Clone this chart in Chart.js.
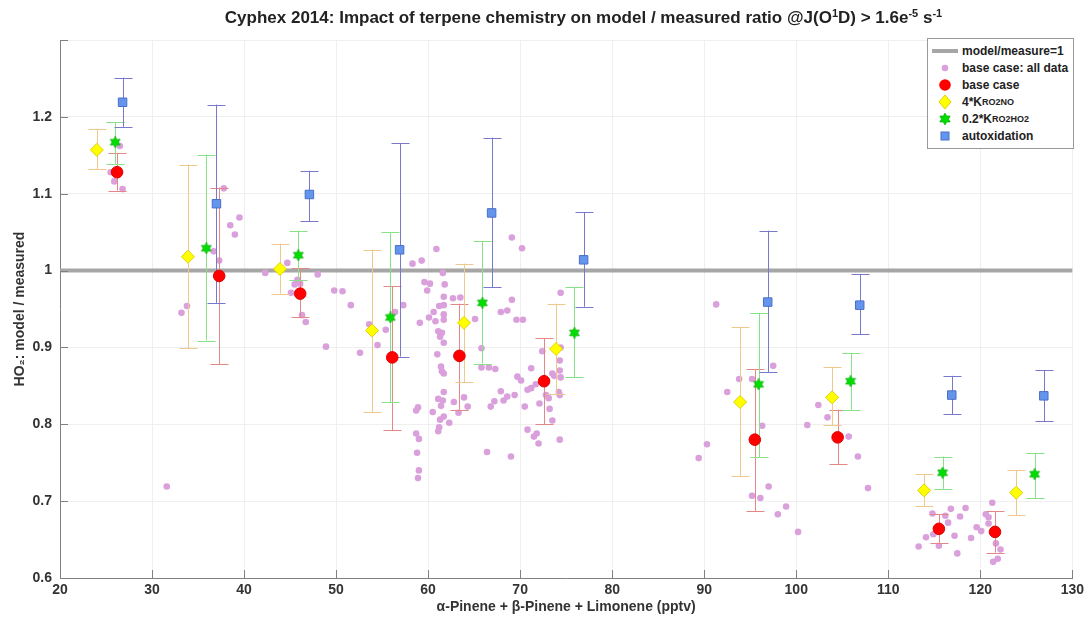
<!DOCTYPE html>
<html>
<head>
<meta charset="utf-8">
<script src="https://cdn.jsdelivr.net/npm/chart.js@4.4.1/dist/chart.umd.min.js"></script>
<style>
html, body { margin: 0; padding: 0; background: #fff; }
#wrap { position: relative; width: 1088px; height: 618px; }
#title { position: absolute; top: 8px; left: 76px; width: 1015px; text-align: center;
  font: bold 17px "Liberation Sans", Arial, sans-serif; color: #222; white-space: nowrap; }
#title sup { font-size: 11px; vertical-align: 6px; line-height: 0; }
#legend { position: absolute; left: 927px; top: 38px; width: 145px; background: #fff; border: 1px solid #999;
  font: bold 12px "Liberation Sans", Arial, sans-serif; color: #222; padding: 3px 0 4px 0; }
.row { display: flex; align-items: center; height: 17px; white-space: nowrap; }
.mk { width: 34px; display: flex; justify-content: center; align-items: center; }
.row sub { font-size: 9px; vertical-align: -4px; line-height: 0; }
</style>
</head>
<body>
<div id="wrap">
  <canvas id="chart" width="1088" height="618"></canvas>
  <div id="title">Cyphex 2014: Impact of terpene chemistry on model / measured ratio @J(O<sup>1</sup>D) &gt; 1.6e<sup>-5</sup> s<sup>-1</sup></div>
  <div id="legend">
    <div class="row"><span class="mk"><svg width="26" height="6"><rect x="0" y="1" width="26" height="4" fill="#a6a6a6"/></svg></span>model/measure=1</div>
    <div class="row"><span class="mk"><svg width="10" height="10"><circle cx="5" cy="5" r="3.3" fill="rgb(218,160,220)"/></svg></span>base case: all data</div>
    <div class="row"><span class="mk"><svg width="14" height="14"><circle cx="7" cy="7" r="5.8" fill="#ff0000"/></svg></span>base case</div>
    <div class="row"><span class="mk"><svg width="14" height="16"><polygon points="7,1 13,8 7,15 1,8" fill="#ffff00" stroke="#e0d000"/></svg></span>4*K<sub>RO2NO</sub></div>
    <div class="row"><span class="mk"><svg width="12" height="12"><polygon points="6,0 7.7,3 11.2,3 9.5,6 11.2,9 7.7,9 6,12 4.3,9 0.8,9 2.5,6 0.8,3 4.3,3" fill="#00dd00" stroke="#00a000" stroke-width="0.6"/></svg></span>0.2*K<sub>RO2HO2</sub></div>
    <div class="row"><span class="mk"><svg width="10" height="10"><rect x="1" y="1" width="8" height="8" fill="#6495ed" stroke="#4a6fc8"/></svg></span>autoxidation</div>
  </div>
</div>
<script>
// x: alpha-pinene + beta-pinene + limonene (pptv), y: model / measured
const refLine = [[20, 1], [130, 1]];

const allData = [
  [26.5,1.162],[25.5,1.128],[25.9,1.116],[26.8,1.106],[31.6,0.719],[33.2,0.945],[33.8,0.954],
  [36.7,1.025],[37.3,1.013],[37.8,1.107],[38.5,1.059],[39.0,1.047],[39.5,1.069],
  [42.3,0.997],[44.7,1.010],[45.5,0.982],[46.1,0.983],[45.1,0.971],[45.8,0.988],[46.3,0.942],[46.7,0.933],
  [48.0,0.995],[49.8,0.974],[50.7,0.973],[51.6,0.955],[48.9,0.901],[52.6,0.893],[53.6,0.930],
  [54.5,0.903],[55.4,0.923],[56.4,0.946],[57.3,0.955],
  [58.3,1.009],[59.3,1.013],[60.9,1.028],[61.6,0.997],[59.6,0.985],[60.2,0.983],[59.9,0.974],[61.8,0.982],
  [61.7,0.966],[62.7,0.964],[63.5,0.965],
  [59.1,0.932],[60.1,0.939],[60.6,0.946],[60.8,0.934],[61.2,0.954],[61.7,0.955],[61.7,0.943],[61.7,0.936],
  [61.1,0.921],[61.5,0.919],[61.3,0.914],[61.7,0.906],[61.0,0.891],
  [65.1,0.937],[65.8,0.899],[69.1,0.962],[69.1,1.043],[70.2,1.029],[67.9,0.946],[68.6,0.948],[69.6,0.936],[70.3,0.936],
  [61.4,0.875],[61.7,0.866],[61.5,0.869],[61.7,0.842],[61.1,0.833],[61.6,0.831],[61.4,0.824],[60.5,0.816],
  [61.7,0.810],[61.3,0.806],[62.3,0.802],[61.2,0.796],[61.1,0.791],
  [62.8,0.829],[63.9,0.835],[63.3,0.815],[64.3,0.823],
  [65.8,0.874],[66.6,0.874],[67.3,0.872],[67.9,0.843],[68.2,0.831],[67.2,0.830],[66.8,0.823],[68.6,0.836],
  [69.4,0.838],[69.7,0.862],
  [58.9,0.822],[58.7,0.818],[58.7,0.788],[59.0,0.781],[58.8,0.763],[59.0,0.740],[58.9,0.730],
  [66.4,0.764],[69.0,0.758],
  [74.4,0.971],[72.4,0.895],[74.3,0.883],[74.4,0.900],[74.3,0.870],[74.4,0.861],[71.2,0.873],[70.1,0.857],
  [70.8,0.845],[71.2,0.847],[71.7,0.852],[73.5,0.866],[73.7,0.863],[72.8,0.838],[73.1,0.834],[74.2,0.842],
  [74.3,0.838],[72.1,0.827],[70.5,0.823],[73.2,0.820],[73.5,0.805],[70.8,0.793],[71.5,0.784],[71.8,0.788],
  [72.0,0.775],[74.3,0.780],
  [91.3,0.956],[92.5,0.842],[93.8,0.859],[95.2,0.859],[97.5,0.876],[96.3,0.798],[90.3,0.774],[89.4,0.756],
  [97.0,0.719],[95.2,0.707],[96.1,0.704],[98.9,0.693],[98.0,0.683],
  [101.2,0.799],[102.4,0.825],[103.4,0.809],[105.7,0.784],[106.7,0.758],[107.8,0.717],[100.2,0.660],
  [114.8,0.684],[116.2,0.681],[116.8,0.690],[117.8,0.680],[118.4,0.691],[116.5,0.672],[114.9,0.657],
  [114.1,0.653],[113.3,0.641],[115.5,0.642],[117.2,0.655],[117.5,0.632],[119.0,0.652],[119.6,0.666],
  [120.1,0.661],[120.6,0.683],[120.9,0.679],[121.3,0.698],[120.9,0.671],[121.7,0.645],[122.2,0.637],
  [121.9,0.625],[121.4,0.621]
];

const baseX  = [26.2, 37.3, 46.1, 56.1, 63.4, 72.6, 95.5, 104.5, 115.5, 121.6];
const baseY  = [1.128, 0.993, 0.970, 0.887, 0.889, 0.856, 0.780, 0.783, 0.664, 0.660];
const baseLo = [1.104, 0.878, 0.939, 0.792, 0.819, 0.800, 0.687, 0.748, 0.646, 0.633];
const baseHi = [1.153, 1.108, 1.003, 0.980, 0.957, 0.912, 0.872, 0.819, 0.683, 0.687];

const no4X  = [24.0, 33.9, 43.9, 53.9, 63.9, 73.9, 93.9, 103.9, 113.9, 123.9];
const no4Y  = [1.157, 1.018, 1.002, 0.922, 0.932, 0.898, 0.829, 0.835, 0.714, 0.711];
const no4Lo = [1.132, 0.899, 0.970, 0.816, 0.855, 0.839, 0.733, 0.799, 0.694, 0.682];
const no4Hi = [1.184, 1.138, 1.035, 1.027, 1.009, 0.957, 0.926, 0.874, 0.735, 0.740];

const ho2X  = [26.0, 35.9, 45.9, 55.9, 65.9, 75.9, 95.9, 105.9, 115.9, 125.9];
const ho2Y  = [1.167, 1.029, 1.020, 0.939, 0.958, 0.919, 0.852, 0.856, 0.737, 0.735];
const ho2Lo = [1.139, 0.909, 0.988, 0.829, 0.879, 0.861, 0.757, 0.819, 0.716, 0.704];
const ho2Hi = [1.193, 1.151, 1.052, 1.050, 1.038, 0.978, 0.945, 0.893, 0.758, 0.763];

const autoX  = [26.8, 37.0, 47.1, 56.9, 66.9, 76.9, 96.9, 106.9, 116.9, 126.9];
const autoY  = [1.219, 1.087, 1.099, 1.027, 1.075, 1.014, 0.959, 0.955, 0.838, 0.837];
const autoLo = [1.187, 0.958, 1.064, 0.888, 0.978, 0.953, 0.868, 0.917, 0.813, 0.804];
const autoHi = [1.251, 1.216, 1.130, 1.166, 1.173, 1.076, 1.052, 0.995, 0.863, 0.870];

function pts(xs, ys) {
    return xs.map((x, i) => ({ x: x, y: ys[i] }));
}

// six-pointed green star like the matlab hexagram marker
function makeStar() {
    const c = document.createElement("canvas");
    c.width = 12; c.height = 12;
    const g = c.getContext("2d");
    g.fillStyle = "#00dd00";
    g.strokeStyle = "#00a000";
    g.lineWidth = 0.6;
    g.beginPath();
    for (let i = 0; i < 12; i++) {
        const r = i % 2 === 0 ? 5.8 : 3.2;
        const a = -Math.PI / 2 + i * Math.PI / 6;
        const px = 6 + r * Math.cos(a), py = 6 + r * Math.sin(a);
        if (i === 0) g.moveTo(px, py); else g.lineTo(px, py);
    }
    g.closePath();
    g.fill();
    g.stroke();
    return c;
}

const errorSets = [
    { x: baseX, lo: baseLo, hi: baseHi, color: "rgb(228,135,135)" },
    { x: no4X, lo: no4Lo, hi: no4Hi, color: "rgb(240,200,140)" },
    { x: ho2X, lo: ho2Lo, hi: ho2Hi, color: "rgb(135,225,135)" },
    { x: autoX, lo: autoLo, hi: autoHi, color: "rgb(120,120,205)" }
];

const extras = {
    id: "extras",
    beforeDatasetsDraw(chart) {
        const { ctx, scales: { x, y } } = chart;
        ctx.save();
        ctx.strokeStyle = "#a6a6a6";
        ctx.lineWidth = 4;
        ctx.beginPath();
        ctx.moveTo(x.getPixelForValue(refLine[0][0]), y.getPixelForValue(refLine[0][1]));
        ctx.lineTo(x.getPixelForValue(refLine[1][0]), y.getPixelForValue(refLine[1][1]));
        ctx.stroke();
        ctx.restore();
    },
    afterDatasetDraw(chart, args) {
        if (args.index !== 0) return;
        const { ctx, scales: { x, y } } = chart;
        ctx.save();
        ctx.lineWidth = 1;
        errorSets.forEach(s => {
            ctx.strokeStyle = s.color;
            s.x.forEach((xv, i) => {
                const px = Math.round(x.getPixelForValue(xv)) + 0.5;
                const top = y.getPixelForValue(s.hi[i]);
                const bot = y.getPixelForValue(s.lo[i]);
                ctx.beginPath();
                ctx.moveTo(px, top); ctx.lineTo(px, bot);
                ctx.moveTo(px - 9, Math.round(top) + 0.5); ctx.lineTo(px + 9, Math.round(top) + 0.5);
                ctx.moveTo(px - 9, Math.round(bot) + 0.5); ctx.lineTo(px + 9, Math.round(bot) + 0.5);
                ctx.stroke();
            });
        });
        ctx.restore();
    },
    afterDraw(chart) {
        // matlab style inward tick marks
        const { ctx, chartArea: a, scales: { x, y } } = chart;
        ctx.save();
        ctx.strokeStyle = "#808080";
        ctx.lineWidth = 1;
        ctx.beginPath();
        x.ticks.forEach(t => {
            const px = Math.round(x.getPixelForValue(t.value)) + 0.5;
            ctx.moveTo(px, a.bottom); ctx.lineTo(px, a.bottom - 8);
        });
        y.ticks.forEach(t => {
            const py = Math.round(y.getPixelForValue(t.value)) + 0.5;
            ctx.moveTo(a.left, py); ctx.lineTo(a.left + 8, py);
        });
        ctx.stroke();
        ctx.restore();
    }
};

const tickFont = { family: '"Liberation Sans", Arial, sans-serif', size: 14, weight: "bold" };

new Chart(document.getElementById("chart"), {
    type: "scatter",
    data: {
        datasets: [
            { label: "base case: all data", data: allData.map(p => ({ x: p[0], y: p[1] })), order: 5,
              pointStyle: "circle", pointRadius: 3.3, backgroundColor: "rgb(218,160,220)", borderWidth: 0 },
            { label: "base case", data: pts(baseX, baseY), order: 4,
              pointStyle: "circle", pointRadius: 5.8, backgroundColor: "#ff0000", borderColor: "#e00000", borderWidth: 1 },
            { label: "4*K_RO2NO", data: pts(no4X, no4Y), order: 3,
              pointStyle: "rectRot", pointRadius: 6.5, backgroundColor: "#ffff00", borderColor: "#e0d000", borderWidth: 1 },
            { label: "0.2*K_RO2HO2", data: pts(ho2X, ho2Y), order: 2,
              pointStyle: makeStar(), pointRadius: 6 },
            { label: "autoxidation", data: pts(autoX, autoY), order: 1,
              pointStyle: "rect", pointRadius: 6, backgroundColor: "#6495ed", borderColor: "#4a6fc8", borderWidth: 1 }
        ]
    },
    options: {
        responsive: false,
        animation: false,
        events: [],
        layout: { padding: { top: 40, right: 13, left: 0, bottom: 0 } },
        plugins: { legend: { display: false }, tooltip: { enabled: false } },
        scales: {
            x: {
                type: "linear", min: 20, max: 130,
                ticks: { stepSize: 10, font: tickFont, color: "#333", padding: 4, maxRotation: 0 },
                grid: { color: "#efefef", drawTicks: false },
                border: { display: true, color: "#808080" },
                title: { display: true, text: "α-Pinene + β-Pinene + Limonene (pptv)", font: tickFont, color: "#333",
                         padding: { top: 0, bottom: 2 } },
                afterFit(s) { s.height = 40; }
            },
            y: {
                type: "linear", min: 0.6, max: 1.3,
                ticks: { stepSize: 0.1, font: tickFont, color: "#333", padding: 8,
                         callback: v => (v > 1.25 ? "" : String(Math.round(v * 10) / 10)) },
                grid: { color: "#efefef", drawTicks: false },
                border: { display: true, color: "#808080" },
                title: { display: true, text: "HO₂: model / measured", font: tickFont, color: "#333",
                         padding: { top: 12, bottom: 0 } },
                afterFit(s) { s.width = 60; }
            }
        }
    },
    plugins: [extras]
});
</script>
</body>
</html>
